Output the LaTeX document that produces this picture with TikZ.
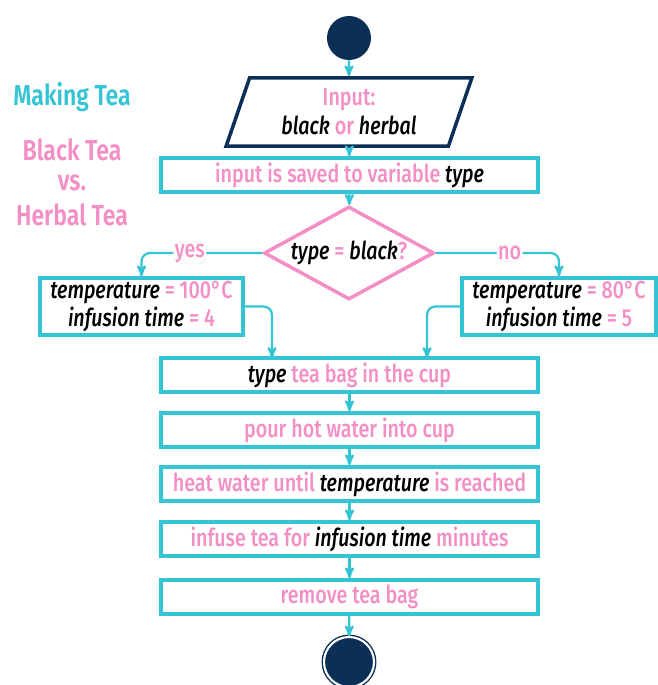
\documentclass[tikz,border=0pt]{standalone}
\usepackage{fontspec}
\setmainfont{Fira Sans}[FakeStretch=0.80,UprightFont=* Medium,ItalicFont=* Medium Italic,BoldFont=* SemiBold]
\usetikzlibrary{shapes.geometric,arrows,calc}
\tikzstyle{action}=[draw=myteal,line width=2.5pt,fill=white,minimum width=9.425cm,minimum height=0.85cm,inner sep=0pt,text=mypink]
\tikzstyle{assign}=[action,minimum height=1.425cm,align=center]
\tikzstyle{decision}=[diamond,aspect=1.83,draw=mypink,line width=2.5pt,fill=white,minimum width=4.25cm,minimum height=2.325cm,inner sep=0pt,text=mypink]
\tikzstyle{io}=[trapezium,trapezium left angle=71,trapezium right angle=109,draw=mynavy,line width=2.5pt,fill=white,minimum width=6.15cm,minimum height=1.4cm,inner sep=0pt,align=center,text=mypink]
\tikzstyle{start}=[circle,fill=mynavy,minimum size=1.1cm,inner sep=0pt]
\tikzstyle{stop}=[circle,fill=mynavy,draw=mynavy,double=white,double distance=1.5pt,line width=1pt,minimum size=1.25cm,inner sep=0pt]
\tikzstyle{branch}=[fill=white,draw=black!8,line width=0.4pt,inner sep=1pt,text=mypink]
\tikzstyle{flow}=[draw=myteal,line width=1.6pt,->]
\tikzstyle{title}=[font=\fontsize{20.5}{22}\selectfont\bfseries]
\definecolor{mypink}{RGB}{243,143,197}
\definecolor{myteal}{RGB}{53,196,211}
\definecolor{mynavy}{RGB}{12,47,88}
\newcommand{\var}[1]{\textcolor{black}{\textit{#1}}}

\begin{document}
\begin{tikzpicture}[x=0.025cm,y=-0.025cm,>=stealth',font=\fontsize{17.5}{20.5}\selectfont]
\useasboundingbox (0,0) rectangle (658,685);
\draw (72, 97) node [title,text=myteal] (head) {Making Tea};
\draw (72, 150) node [title,text=mypink] (sub1) {Black Tea};
\draw (72, 183) node [title,text=mypink] (sub2) {vs.};
\draw (72, 215) node [title,text=mypink] (sub3) {Herbal Tea};

\draw (349, 38) node [start] (begin) {};
\draw (349, 112) node [io] (input) {Input:\\\var{black} or \var{herbal}};
\draw (349.5, 175) node [action] (save) {input is saved to variable \var{type}};
\draw (349, 253) node [decision] (check) {\var{type} = \var{black}?};
\draw (141.5, 306.5) node [assign,minimum width=5.075cm] (black) {\var{temperature} = 100°C\\\var{infusion time} = 4};
\draw (559, 306.5) node [assign,minimum width=4.85cm] (herbal) {\var{temperature} = 80°C\\\var{infusion time} = 5};
\draw (349.5, 375) node [action] (bag) {\var{type} tea bag in the cup};
\draw (349.5, 430) node [action] (pour) {pour hot water into cup};
\draw (349.5, 484) node [action] (heat) {heat water until \var{temperature} is reached};
\draw (349.5, 539) node [action] (infuse) {infuse tea for \var{infusion time} minutes};
\draw (349.5, 597) node [action] (remove) {remove tea bag};
\draw (349, 662) node [stop] (end) {};
\coordinate (inL) at (272, 358);
\coordinate (inR) at (427, 358);

\draw[flow] (begin) -- (input);
\draw[flow] (input) -- (save);
\draw[flow] (save) -- (check);
\draw[flow,rounded corners=6pt] (check.west) -| node [branch,pos=0.3] (yes) {yes} (black.north);
\draw[flow,rounded corners=6pt] (check.east) -| node [branch,pos=0.3] (no) {no} (herbal.north);
\draw[flow,rounded corners=6pt] (black.east) -| (inL);
\draw[flow,rounded corners=6pt] (herbal.west) -| (inR);
\draw[flow] (pour) -- (heat);
\draw[flow] (bag) -- (pour);
\draw[flow] (heat) -- (infuse);
\draw[flow] (infuse) -- (remove);
\draw[flow] (remove) -- (end);
\end{tikzpicture}
\end{document}
